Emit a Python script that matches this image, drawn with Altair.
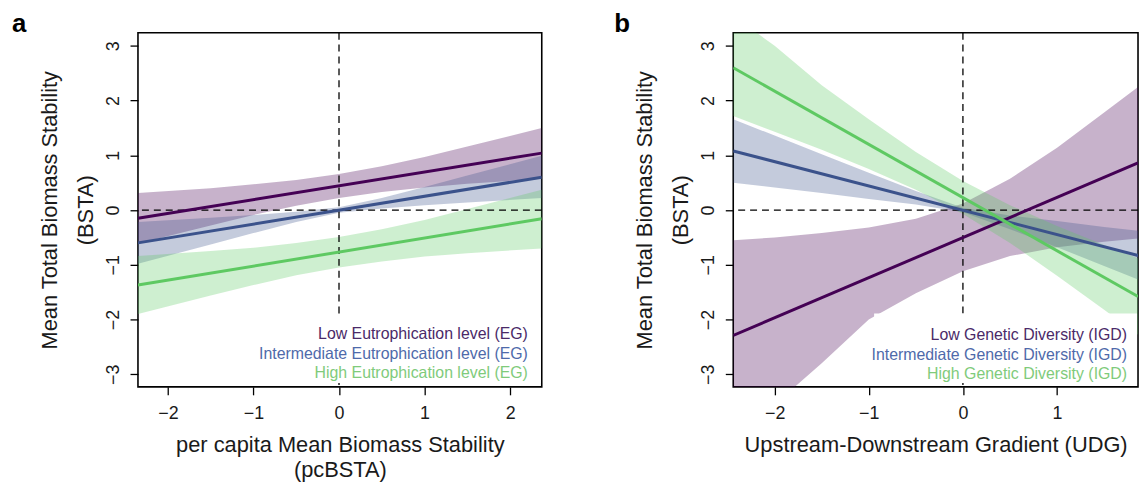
import altair as alt
import pandas as pd

FONT = "Liberation Sans"
GROUPS = ["Low", "Intermediate", "High"]
LINE_COLORS = ["#440154", "#3b528b", "#5ec962"]
TEXT_COLORS = ["#4a2a68", "#4f6aaa", "#7fcb7b"]

# ---------------- Panel a : pcBSTA ----------------
a_x = [-2.35, -1.5, -1.0, -0.5, 0.0, 0.5, 1.0, 1.5, 2.37]
a_low_lo = [-0.61, -0.28, -0.09, 0.08, 0.22, 0.33, 0.41, 0.48, 0.57]
a_low_hi = [0.31, 0.40, 0.47, 0.55, 0.66, 0.80, 0.97, 1.16, 1.50]
a_int_lo = [-0.98, -0.63, -0.42, -0.22, -0.05, 0.03, 0.09, 0.14, 0.22]
a_int_hi = [-0.22, -0.14, -0.09, -0.03, 0.05, 0.22, 0.42, 0.63, 0.99]
a_high_lo = [-1.90, -1.56, -1.37, -1.19, -1.05, -0.94, -0.85, -0.79, -0.70]
a_high_hi = [-0.84, -0.75, -0.69, -0.60, -0.49, -0.35, -0.18, 0.02, 0.37]
a_line_x = [-2.35, 2.37]
a_low_line = [-0.15, 1.04]
a_int_line = [-0.60, 0.60]
a_high_line = [-1.37, -0.16]
a_labels = ["Low Eutrophication level (EG)",
            "Intermediate Eutrophication level (EG)",
            "High Eutrophication level (EG)"]

# ---------------- Panel b : UDG ----------------
b_x = [-2.44, -2.0, -1.5, -1.0, -0.5, 0.0, 0.5, 1.0, 1.5, 1.86]
b_low_lo = [-4.10, -3.55, -2.80, -2.00, -1.52, -1.12, -0.84, -0.68, -0.58, -0.52]
b_low_hi = [-0.55, -0.50, -0.42, -0.32, -0.16, 0.12, 0.57, 1.14, 1.78, 2.25]
b_int_lo = [0.50, 0.41, 0.31, 0.20, 0.10, -0.04, -0.35, -0.68, -1.02, -1.27]
b_int_hi = [1.66, 1.36, 1.02, 0.68, 0.35, 0.04, -0.10, -0.20, -0.31, -0.38]
b_high_lo = [1.72, 1.43, 1.10, 0.75, 0.37, -0.07, -0.60, -1.20, -1.82, -2.28]
b_high_hi = [3.55, 3.00, 2.28, 1.66, 1.06, 0.53, 0.09, -0.29, -0.64, -0.88]
b_line_x = [-2.44, 1.86]
b_low_line = [-2.29, 0.86]
b_int_line = [1.08, -0.83]
b_high_line = [2.60, -1.58]
b_labels = ["Low Genetic Diversity (IGD)",
            "Intermediate Genetic Diversity (IGD)",
            "High Genetic Diversity (IGD)"]

Y_DOMAIN = [-3.23, 3.24]
Y_TICKS = [-3, -2, -1, 0, 1, 2, 3]
ONE = pd.DataFrame({"k": [0]})


def band_df(xs, los, his):
    rows = []
    for g, lo, hi in zip(GROUPS, los, his):
        for x, l, h in zip(xs, lo, hi):
            rows.append({"x": x, "lo": l, "hi": h, "grp": g})
    return pd.DataFrame(rows)


def line_df(xs, ys):
    rows = []
    for g, yy in zip(GROUPS, ys):
        for x, y in zip(xs, yy):
            rows.append({"x": x, "y": y, "grp": g})
    return pd.DataFrame(rows)


def panel(bands, lines, xdom, xticks, xtitle, letter, labels, W, H,
          letter_x, box, text_right, text_top):
    xscale = alt.Scale(domain=xdom, nice=False, zero=False)
    yscale = alt.Scale(domain=Y_DOMAIN, nice=False, zero=False)
    xaxis = alt.Axis(values=xticks, title=xtitle, labelBaseline="alphabetic",
                     labelPadding=24, titleBaseline="alphabetic", titleY=65,
                     titleLineHeight=25, format="d")
    yaxis = alt.Axis(values=Y_TICKS, title=["Mean Total Biomass Stability", "(BSTA)"],
                     labelAngle=270, labelAlign="center", labelBaseline="alphabetic",
                     labelPadding=12, titleAngle=270, titleAlign="center",
                     titleBaseline="alphabetic", titleX=-82, titleY=H / 2,
                     titleLineHeight=36, format="d")
    cscale = alt.Scale(domain=GROUPS, range=LINE_COLORS)

    area = alt.Chart(bands).mark_area(opacity=0.3, clip=True).encode(
        x=alt.X("x:Q", scale=xscale, axis=xaxis),
        y=alt.Y("lo:Q", scale=yscale, axis=yaxis),
        y2="hi:Q",
        color=alt.Color("grp:N", scale=cscale, legend=None),
    )
    hrule = alt.Chart(ONE).mark_rule(color="black", strokeDash=[7, 5], strokeWidth=1.3).encode(
        y=alt.datum(0))
    vrule = alt.Chart(ONE).mark_rule(color="black", strokeDash=[7, 5], strokeWidth=1.3).encode(
        x=alt.datum(0))
    line = alt.Chart(lines).mark_line(strokeWidth=3, clip=True).encode(
        x=alt.X("x:Q", scale=xscale, axis=xaxis),
        y=alt.Y("y:Q", scale=yscale, axis=yaxis),
        color=alt.Color("grp:N", scale=cscale, legend=None),
        detail="grp:N",
    )
    rect = alt.Chart(ONE).mark_rect(fill="white").encode(
        x=alt.value(box[0]), x2=alt.value(box[1]), y=alt.value(box[2]), y2=alt.value(box[3]))
    layers = [area, hrule, vrule, line, rect]
    for i, (lab, col) in enumerate(zip(labels, TEXT_COLORS)):
        layers.append(
            alt.Chart(ONE).mark_text(text=lab, align="right", baseline="middle",
                                     fontSize=16, font=FONT, color=col).encode(
                x=alt.value(text_right), y=alt.value(text_top + 19.5 * i)))
    layers.append(
        alt.Chart(ONE).mark_text(text=letter, align="left", baseline="top", fontSize=26,
                                 fontWeight="bold", font=FONT, color="black").encode(
            x=alt.value(letter_x), y=alt.value(-22)))
    return alt.layer(*layers).properties(width=W, height=H)


pa = panel(band_df(a_x, [a_low_lo, a_int_lo, a_high_lo], [a_low_hi, a_int_hi, a_high_hi]),
           line_df(a_line_x, [a_low_line, a_int_line, a_high_line]),
           [-2.35, 2.37], [-2, -1, 0, 1, 2],
           ["per capita Mean Biomass Stability", "(pcBSTA)"], "a", a_labels,
           407, 357, -127, (107, 406, 287, 353), 393, 304)

pb = panel(band_df(b_x, [b_low_lo, b_int_lo, b_high_lo], [b_low_hi, b_int_hi, b_high_hi]),
           line_df(b_line_x, [b_low_line, b_int_line, b_high_line]),
           [-2.44, 1.86], [-2, -1, 0, 1],
           "Upstream-Downstream Gradient (UDG)", "b", b_labels,
           408, 357, -120, (142, 407, 283, 353), 397, 305)

chart = alt.hconcat(pa, pb, spacing=193, bounds="flush").properties(
    padding={"left": 3, "top": 0, "right": 0, "bottom": 0}
).configure_view(
    stroke="black", strokeWidth=1.6
).configure_axis(
    grid=False, domain=False, ticks=True, tickSize=8, tickWidth=1.3, tickColor="black",
    labelFont=FONT, labelFontSize=18, labelColor="#1a1a1a",
    titleFont=FONT, titleFontSize=22, titleFontWeight="normal", titleColor="#1a1a1a",
)

chart.save("out.html", embed_options={"renderer": "svg", "actions": False})
